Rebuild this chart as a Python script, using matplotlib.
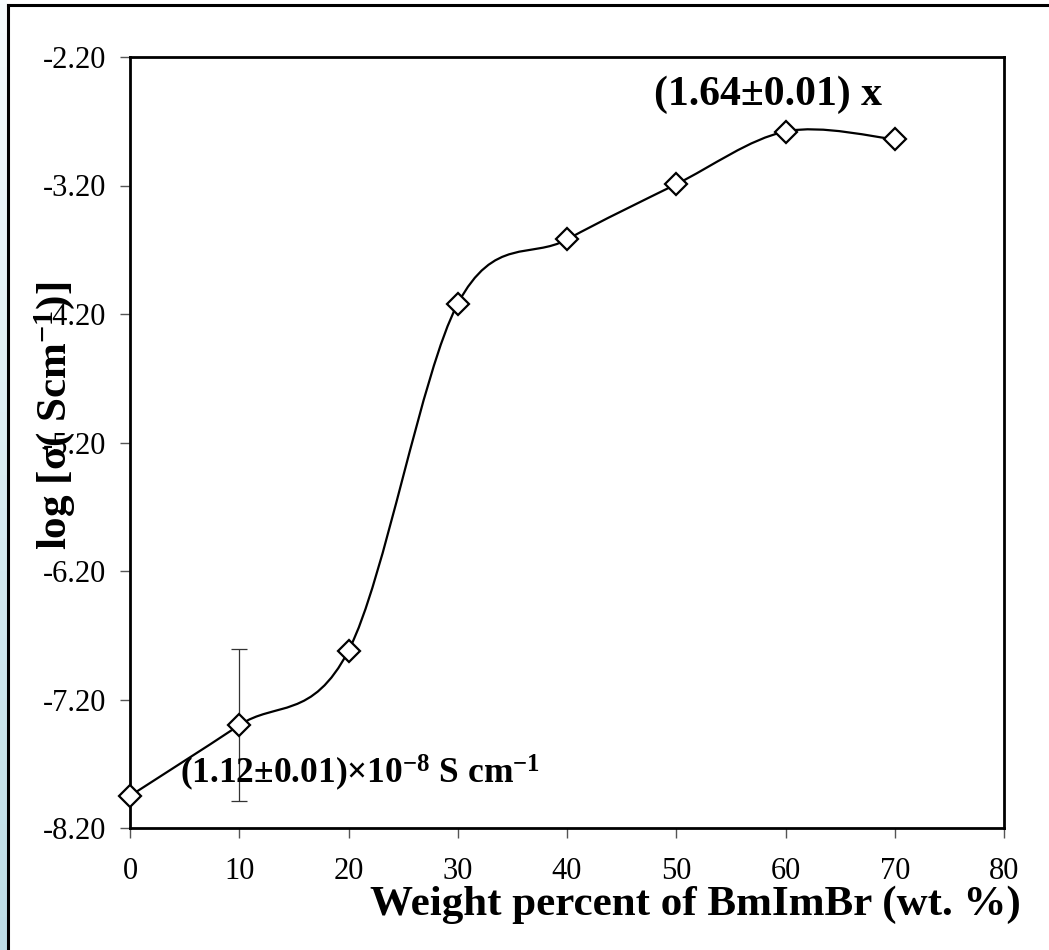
import numpy as np
import matplotlib
matplotlib.use("Agg")
import matplotlib.pyplot as plt
from matplotlib.path import Path
from matplotlib.patches import PathPatch
from matplotlib.lines import Line2D

# data
wt = [0, 10, 20, 30, 40, 50, 60, 70]
log_sigma = [-7.95, -7.40, -6.82, -4.12, -3.62, -3.19, -2.78, -2.84]
err_x = [10]
err_y = [-7.40]
err_val = [0.59]
xticks = [0, 10, 20, 30, 40, 50, 60, 70, 80]
yticks = [-8.20, -7.20, -6.20, -5.20, -4.20, -3.20, -2.20]

plt.rcParams['font.family'] = ['Liberation Serif', 'DejaVu Serif']
plt.rcParams['mathtext.fontset'] = 'custom'
plt.rcParams['mathtext.rm'] = 'Liberation Serif'
plt.rcParams['mathtext.bf'] = 'Liberation Serif:bold'
plt.rcParams['mathtext.it'] = 'Liberation Serif:italic'

W, H = 1049, 950
fig = plt.figure(figsize=(W / 100, H / 100), dpi=100)
fig.patch.set_facecolor('white')

# light blue strip on the left edge
strip = fig.add_axes([0, 0, 7 / W, 1])
grad = np.linspace(0, 1, 256).reshape(-1, 1)
cmap = matplotlib.colors.LinearSegmentedColormap.from_list('s', ['#bcdde6', '#f6fbfd'])
strip.imshow(grad, aspect='auto', cmap=cmap, origin='lower', extent=[0, 1, 0, 1])
strip.axis('off')

# outer frame (top and left only, the rest is cut off)
fig.add_artist(Line2D([7.5 / W, 7.5 / W], [0, 1 - 5 / H], color='black', lw=2.2, transform=fig.transFigure))
fig.add_artist(Line2D([7.5 / W, 1], [1 - 5 / H, 1 - 5 / H], color='black', lw=2.2, transform=fig.transFigure))

ax = fig.add_axes([130 / W, 1 - 828 / H, (1004 - 130) / W, (828 - 57) / H])
ax.set_xlim(0, 80)
ax.set_ylim(-8.20, -2.20)

# smoothed line (Excel-style bezier through the points)
x = np.array(wt, dtype=float)
y = np.array(log_sigma)
verts = [(x[0], y[0])]
codes = [Path.MOVETO]
n = len(x)
for i in range(n - 1):
    p0 = i - 1 if i > 0 else i
    p3 = i + 2 if i + 2 < n else i + 1
    c1 = (x[i] + (x[i + 1] - x[p0]) / 6, y[i] + (y[i + 1] - y[p0]) / 6)
    c2 = (x[i + 1] - (x[p3] - x[i]) / 6, y[i + 1] - (y[p3] - y[i]) / 6)
    verts += [c1, c2, (x[i + 1], y[i + 1])]
    codes += [Path.CURVE4] * 3
ax.add_patch(PathPatch(Path(verts, codes), facecolor='none', edgecolor='black', lw=1.6, zorder=2))

ax.errorbar(err_x, err_y, yerr=err_val, fmt='none', ecolor='#333333', elinewidth=0.9, capsize=6, capthick=0.9, zorder=3)
ax.plot(wt, log_sigma, linestyle='none', marker='D', ms=11, mfc='white', mec='black', mew=1.6,
        zorder=4, clip_on=False)

ax.set_xticks(xticks)
ax.set_yticks(yticks)
ax.set_yticklabels(['%.2f' % v for v in yticks])
ax.tick_params(direction='out', length=7, width=1, color='#555555', labelsize=22, pad=10)
ax.tick_params(axis='x', pad=14)
for s in ax.spines.values():
    s.set_linewidth(2)

ax.text(48.0, -2.57, '(1.64±0.01) x', fontsize=30, fontweight='bold', ha='left', va='baseline')
ax.text(4.6, -7.85, r'(1.12±0.01)×10$^{\mathbf{-8}}$ S cm$^{\mathbf{-1}}$',
        fontsize=25.5, fontweight='bold', ha='left', va='baseline')

fig.text(695 / W, 1 - 905 / H, 'Weight percent of BmImBr (wt. %)', fontsize=31, fontweight='bold',
         ha='center', va='center')
fig.text(55 / W, 1 - 416 / H, r'log [σ( Scm$^{\mathbf{-1}}$)]', fontsize=31, fontweight='bold',
         rotation=90, ha='center', va='center')

fig.savefig('out.png', dpi=100)
